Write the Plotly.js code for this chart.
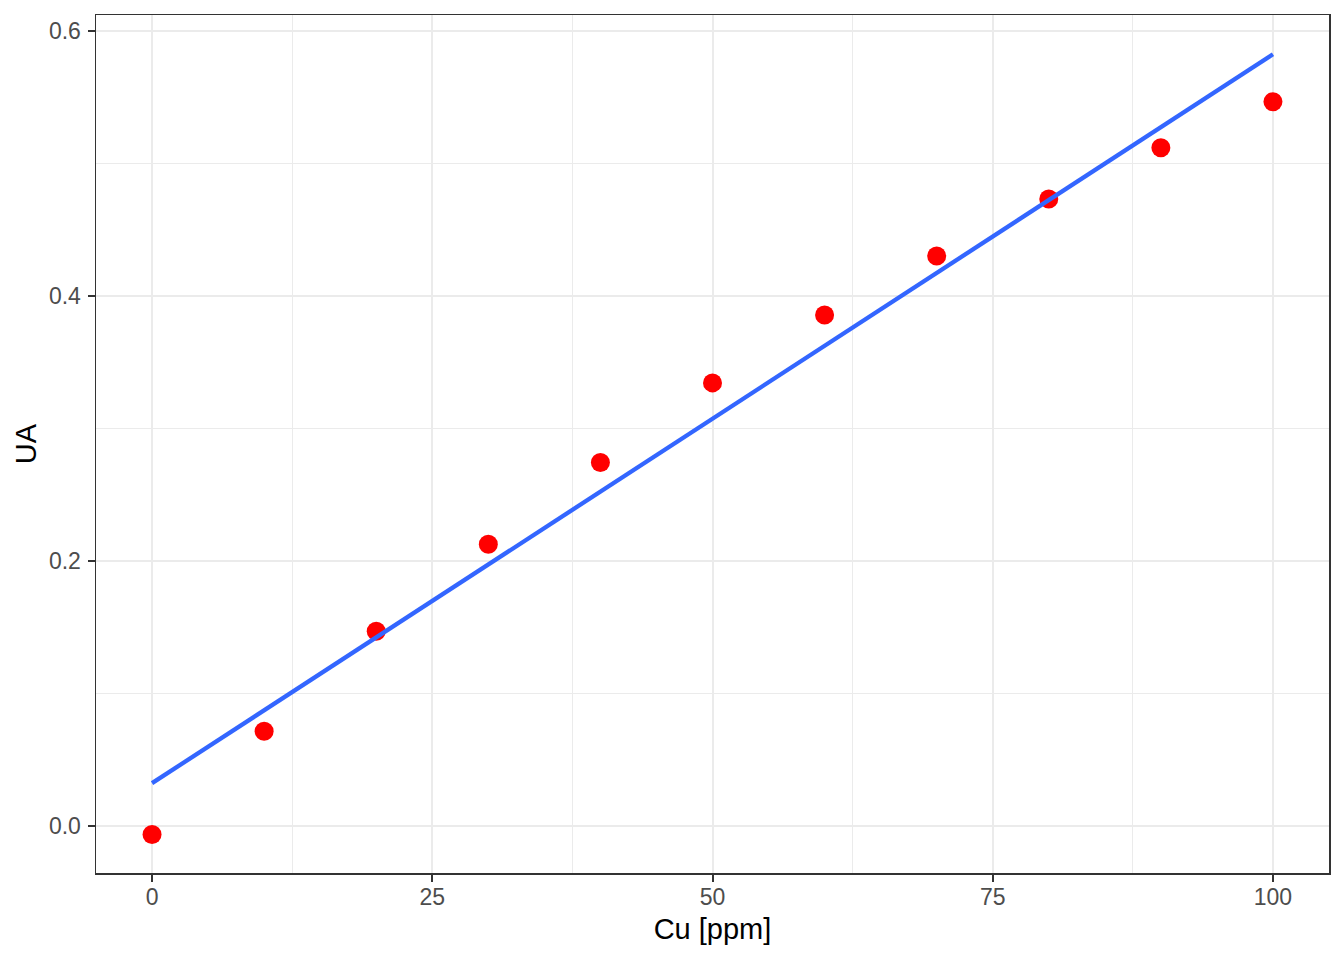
<!DOCTYPE html>
<html>
<head>
<meta charset="utf-8">
<script src="https://cdn.plot.ly/plotly-3.0.1.min.js"></script>
<style>html,body{margin:0;padding:0;background:#fff;}#chart{width:1344px;height:960px;}</style>
</head>
<body>
<div id="chart"></div>
<script>
const cuPpm = [0, 10, 20, 30, 40, 50, 60, 70, 80, 90, 100];
const ua = [-0.0063, 0.0716, 0.147, 0.2126, 0.2744, 0.3344, 0.3857, 0.4302, 0.4731, 0.5118, 0.5465];
const xTicks = [0, 25, 50, 75, 100];
const yTicks = [0.0, 0.2, 0.4, 0.6];
const yTickLabels = ['0.0', '0.2', '0.4', '0.6'];

// least-squares fit (geom_smooth(method = "lm"))
const n = cuPpm.length;
const mx = cuPpm.reduce((a, b) => a + b, 0) / n;
const my = ua.reduce((a, b) => a + b, 0) / n;
let sxy = 0, sxx = 0;
for (let i = 0; i < n; i++) { sxy += (cuPpm[i] - mx) * (ua[i] - my); sxx += (cuPpm[i] - mx) ** 2; }
const slope = sxy / sxx, intercept = my - slope * mx;
const fitX = [Math.min(...cuPpm), Math.max(...cuPpm)];
const fitY = fitX.map(v => intercept + slope * v);

const font = 'Liberation Sans, Arial, sans-serif';
const axisCommon = {
  showline: true, mirror: true, linecolor: '#333333', linewidth: 1.5,
  ticks: 'outside', ticklen: 7, tickwidth: 2, tickcolor: '#333333',
  showgrid: true, gridcolor: '#EBEBEB', gridwidth: 2,
  zeroline: false,
  tickfont: {family: font, size: 23, color: '#4D4D4D'}
};

const traces = [
  {x: cuPpm, y: ua, type: 'scatter', mode: 'markers',
   marker: {color: '#FF0000', size: 19, line: {width: 0}}, hoverinfo: 'x+y'},
  {x: fitX, y: fitY, type: 'scatter', mode: 'lines',
   line: {color: '#3366FF', width: 4.3}}
];

const layout = {
  width: 1344, height: 960,
  paper_bgcolor: '#ffffff', plot_bgcolor: '#ffffff',
  margin: {l: 96, r: 15, t: 15, b: 87},
  showlegend: false,
  xaxis: Object.assign({}, axisCommon, {
    range: [-5, 105], tickvals: xTicks, ticktext: xTicks.map(String),
    minor: {dtick: 12.5, tick0: 12.5, showgrid: true, gridcolor: '#EBEBEB', gridwidth: 1, ticks: ''},
    ticklabelstandoff: -4,
    title: {text: 'Cu [ppm]', font: {family: font, size: 29, color: '#000000'}, standoff: 9}
  }),
  yaxis: Object.assign({}, axisCommon, {
    range: [-0.0354, 0.612], tickvals: yTicks, ticktext: yTickLabels,
    minor: {dtick: 0.1, tick0: 0.1, showgrid: true, gridcolor: '#EBEBEB', gridwidth: 1, ticks: ''},
    ticklabelstandoff: 2,
    title: {text: 'UA', font: {family: font, size: 29, color: '#000000'}, standoff: 4}
  })
};

Plotly.newPlot('chart', traces, layout, {displayModeBar: false, staticPlot: true});
</script>
</body>
</html>
